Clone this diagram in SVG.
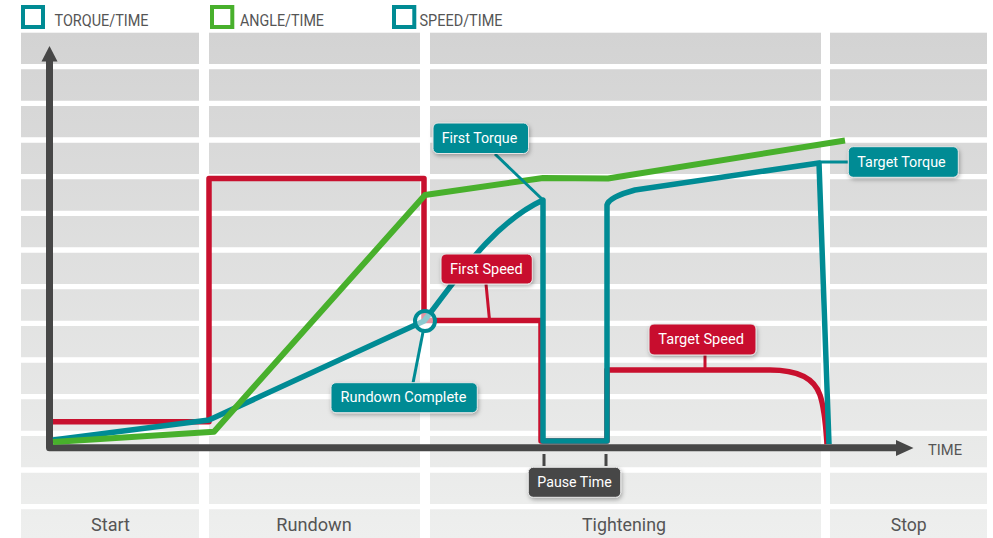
<svg xmlns="http://www.w3.org/2000/svg" width="993" height="538" viewBox="0 0 993 538">
<style>
.leg{font-family:Roboto,"Liberation Sans",sans-serif;font-size:16px;fill:#555}
.phase{font-family:Roboto,"Liberation Sans",sans-serif;font-size:19px;fill:#555;text-anchor:middle}
.lbl{font-family:Roboto,"Liberation Sans",sans-serif;font-size:15.5px;fill:#fff;text-anchor:middle}
.box{stroke:#e6e6e6;stroke-width:1;filter:url(#sh)}
.teal{fill:#008b94}
.red{fill:#c8102e}
.dark{fill:#474747}
.curve{fill:none;stroke-linejoin:round}
.lead{fill:none;stroke-width:3}
</style>
<defs>
<linearGradient id="cell" gradientUnits="userSpaceOnUse" x1="0" y1="33" x2="0" y2="538">
<stop offset="0" stop-color="#d3d3d3"/>
<stop offset="1" stop-color="#eeefee"/>
</linearGradient>
<filter id="sh" x="-20%" y="-30%" width="140%" height="170%">
<feDropShadow dx="1" dy="2" stdDeviation="2" flood-color="#000" flood-opacity="0.3"/>
</filter>
</defs>
<rect width="993" height="538" fill="#fff"/>
<g id="grid">
<rect x="21" y="32.7" width="178" height="505.3" fill="url(#cell)"/>
<rect x="209" y="32.7" width="211" height="505.3" fill="url(#cell)"/>
<rect x="430" y="32.7" width="391" height="505.3" fill="url(#cell)"/>
<rect x="830" y="32.7" width="157" height="505.3" fill="url(#cell)"/>
<path d="M0,66.67H993M0,103.33H993M0,140H993M0,176.67H993M0,213.33H993M0,250H993M0,286.67H993M0,323.33H993M0,360H993M0,396.67H993M0,433.33H993M0,470H993M0,506.67H993" stroke="#fff" stroke-width="5.33"/>
</g>
<g id="legend">
<rect x="23" y="7" width="20" height="20" fill="#fff" stroke="#008b94" stroke-width="4"/>
<text class="leg" x="54.5" y="26" textLength="94" lengthAdjust="spacingAndGlyphs">TORQUE/TIME</text>
<rect x="212" y="7" width="20.3" height="20" fill="#fff" stroke="#48b02c" stroke-width="4"/>
<text class="leg" x="240" y="26" textLength="84" lengthAdjust="spacingAndGlyphs">ANGLE/TIME</text>
<rect x="394" y="7" width="20.3" height="20" fill="#fff" stroke="#008b94" stroke-width="4"/>
<text class="leg" x="419.5" y="26" textLength="83" lengthAdjust="spacingAndGlyphs">SPEED/TIME</text>
</g>
<g id="axes">
<path d="M49.5,60 V447.7 H898" fill="none" stroke="#474747" stroke-width="7" stroke-linejoin="round"/>
<polygon points="49.5,46 41.5,61.5 57.5,61.5" fill="#474747"/>
<polygon points="913.5,448 896,440 896,456" fill="#474747"/>
<text id="time" x="928" y="455" font-family="Roboto,'Liberation Sans',sans-serif" font-size="15" fill="#555" textLength="34" lengthAdjust="spacingAndGlyphs">TIME</text>
</g>
<g id="curves">
<path id="speed" class="curve" stroke="#c8102e" stroke-width="5.5" d="M53,421.7 H209 V178.5 H424 V320.5 H541 V441 H607 V370 H770 C800,370 815,380 820,395 C825,410 826,430 827,444"/>
<path id="torque" class="curve" stroke="#008b94" stroke-width="5.5" d="M53,440 L209,420 L424,321 C455,282 490,225 543,200 L543,441 L607,441 L607,205 Q609,197 635,190 L819,163 L829,444"/>
<path id="angle" class="curve" stroke="#48b02c" stroke-width="6" d="M53,442 L214,431.7 L425,195 L543,178 L608,178.5 L845,140.5"/>
</g>
<g id="connectors">
<path class="lead" stroke="#008b94" d="M495,154 L543,200"/>
<path class="lead" stroke="#c8102e" d="M486,284 L489.5,320"/>
<path class="lead" stroke="#008b94" d="M423,332 L413,383"/>
<path class="lead" stroke="#008b94" d="M819,162 H849"/>
<path class="lead" stroke="#c8102e" d="M705,355 V370"/>
<path class="lead" stroke="#474747" stroke-width="2.5" d="M544,454 V466 M606,454 V466"/>
</g>
<g id="rundown-point">
<circle cx="425" cy="321" r="10" fill="#fff" fill-opacity="0.55" stroke="#008b94" stroke-width="4"/>
</g>
<g id="first-torque">
<rect class="box teal" x="433" y="123" width="95.5" height="30.5" rx="5"/>
<text class="lbl" x="479.5" y="143.3" textLength="75.6" lengthAdjust="spacingAndGlyphs">First Torque</text>
</g>
<g id="first-speed">
<rect class="box red" x="441" y="254" width="91.3" height="30" rx="5"/>
<text class="lbl" x="486.4" y="274" textLength="72.7" lengthAdjust="spacingAndGlyphs">First Speed</text>
</g>
<g id="rundown-complete">
<rect class="box teal" x="331" y="382.7" width="146.3" height="30" rx="5"/>
<text class="lbl" x="403.5" y="401.7" textLength="126" lengthAdjust="spacingAndGlyphs">Rundown Complete</text>
</g>
<g id="target-torque">
<rect class="box teal" x="848.3" y="146.7" width="110" height="30.6" rx="5"/>
<text class="lbl" x="901.5" y="167.3" textLength="88.3" lengthAdjust="spacingAndGlyphs">Target Torque</text>
</g>
<g id="target-speed">
<rect class="box red" x="649" y="324" width="107" height="31" rx="5"/>
<text class="lbl" x="701.2" y="344" textLength="85.7" lengthAdjust="spacingAndGlyphs">Target Speed</text>
</g>
<g id="pause-time">
<rect class="box dark" x="528.3" y="467.3" width="92.4" height="30" rx="5"/>
<text class="lbl" x="574.5" y="486.7" textLength="74.3" lengthAdjust="spacingAndGlyphs">Pause Time</text>
</g>
<g id="phases">
<text class="phase" x="110.5" y="530.5" textLength="39" lengthAdjust="spacingAndGlyphs">Start</text>
<text class="phase" x="314" y="530.5" textLength="75.5" lengthAdjust="spacingAndGlyphs">Rundown</text>
<text class="phase" x="624" y="530.5" textLength="84" lengthAdjust="spacingAndGlyphs">Tightening</text>
<text class="phase" x="908.7" y="530.5" textLength="36" lengthAdjust="spacingAndGlyphs">Stop</text>
</g>
</svg>
